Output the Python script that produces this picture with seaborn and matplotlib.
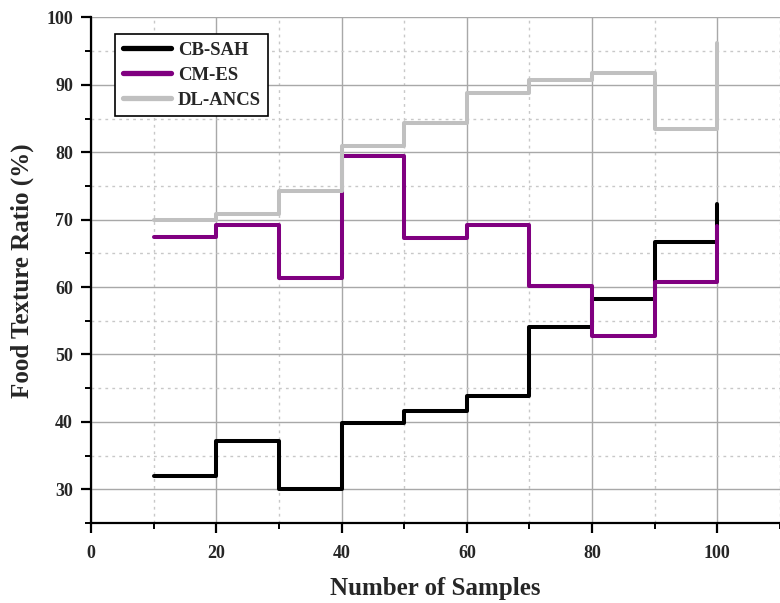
import matplotlib
matplotlib.use("Agg")
import matplotlib.pyplot as plt
import seaborn as sns
import pandas as pd
from matplotlib.ticker import MultipleLocator
from matplotlib.lines import Line2D

samples = [10, 20, 30, 40, 50, 60, 70, 80, 90, 100]
cb_sah = [32.0, 37.1, 30.0, 39.8, 41.6, 43.8, 54.1, 58.2, 66.7, 72.3]
cm_es = [67.4, 69.2, 61.4, 79.5, 67.3, 69.2, 60.1, 52.7, 60.8, 69.1]
dl_ancs = [70.0, 70.8, 74.3, 80.9, 84.3, 88.8, 90.7, 91.8, 83.4, 96.2]
series_names = ["CB-SAH", "CM-ES", "DL-ANCS"]
colors = ["#000000", "#800080", "#c0c0c0"]

df = pd.DataFrame({
    "Number of Samples": samples * 3,
    "value": cb_sah + cm_es + dl_ancs,
    "method": [n for n in series_names for _ in samples],
})

sns.set_theme(style="white")
plt.rcParams["font.family"] = ["Liberation Serif", "DejaVu Serif"]
plt.rcParams["font.weight"] = "bold"

fig = plt.figure(figsize=(7.8, 6.03), dpi=100)
ax = fig.add_axes([0.1167, 0.1327, 0.8833, 0.8383])

sns.lineplot(data=df, x="Number of Samples", y="value", hue="method",
             palette=dict(zip(series_names, colors)), drawstyle="steps-post",
             linewidth=2.9, ax=ax, legend=False, zorder=3)

ax.set_xlim(0, 110)
ax.set_ylim(25, 100)
ax.xaxis.set_major_locator(MultipleLocator(20))
ax.xaxis.set_minor_locator(MultipleLocator(10))
ax.yaxis.set_major_locator(MultipleLocator(10))
ax.yaxis.set_minor_locator(MultipleLocator(5))
ax.set_yticks([30, 40, 50, 60, 70, 80, 90, 100])

ax.grid(True, which="major", color="#a8a8a8", linewidth=1.0, linestyle="-", zorder=0)
ax.grid(True, which="minor", color="#c8c8c8", linewidth=1.0, linestyle=(0, (2, 3)), zorder=0)
ax.set_axisbelow(True)

for s in ["top", "right"]:
    ax.spines[s].set_visible(False)
for s in ["left", "bottom"]:
    ax.spines[s].set_visible(True)
    ax.spines[s].set_color("black")
    ax.spines[s].set_linewidth(1.6)

ax.tick_params(axis="x", which="major", pad=9)
ax.tick_params(axis="y", which="major", pad=6)
ax.tick_params(axis="both", which="major", direction="out", length=7, width=1.6,
               color="black", labelsize=13, left=True, bottom=True)
ax.tick_params(axis="both", which="minor", direction="out", length=4, width=1.4,
               color="black", left=True, bottom=True)
for lab in ax.get_xticklabels() + ax.get_yticklabels():
    lab.set_fontweight("bold")

ax.set_xlabel("Number of Samples", fontsize=18, fontweight="bold", labelpad=11)
ax.set_ylabel("Food Texture Ratio (%)", fontsize=18, fontweight="bold", labelpad=9)

handles = [Line2D([0], [0], color=c, linewidth=3.8) for c in colors]
leg = ax.legend(handles, series_names, loc="upper left", bbox_to_anchor=(0.035, 0.967),
                frameon=True, fancybox=False, edgecolor="black", framealpha=1,
                prop={"family": "Liberation Serif", "weight": "bold", "size": 13.5},
                handlelength=2.6, handletextpad=0.35, labelspacing=0.42,
                borderpad=0.4, borderaxespad=0)
leg.get_frame().set_linewidth(1.2)

fig.savefig("out.png", dpi=100)
